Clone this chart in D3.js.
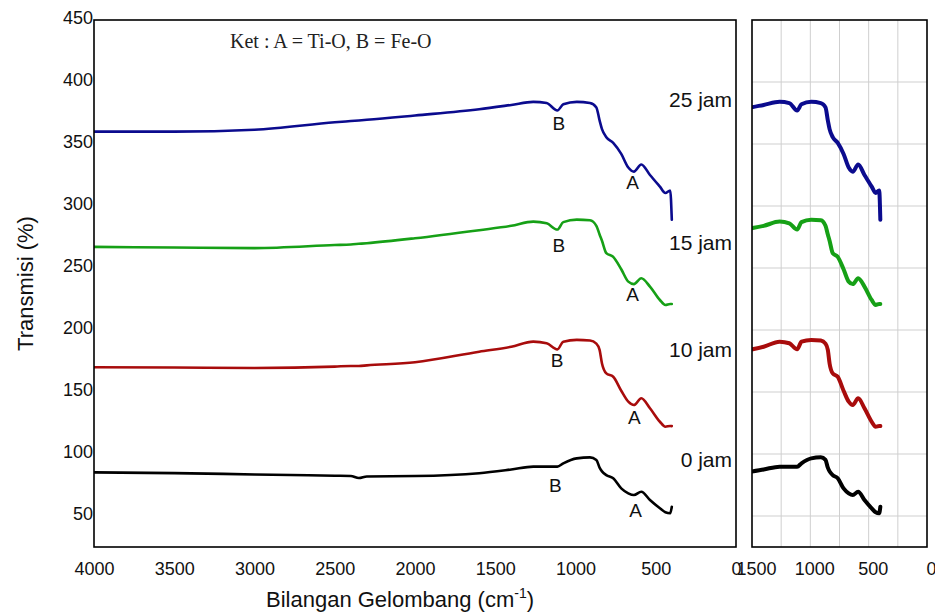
<!DOCTYPE html>
<html>
<head>
<meta charset="utf-8">
<script src="https://cdn.jsdelivr.net/npm/d3@7"></script>
<style>
  body { margin: 0; background: #fff; }
  svg { display: block; }
</style>
</head>
<body>
<script>
// wavenumber points (cm-1) shared by all spectra
var wn = [4000, 3500, 3000, 2500, 2400, 2350, 2300, 2000, 1600, 1400, 1263, 1180, 1113, 1076, 992, 910, 870, 850, 835, 808, 765, 715, 671, 636, 590, 536, 474, 440, 410, 400];

var jam0  = [85.2, 84.6, 83.5, 82.5, 82.3, 80.6, 81.9, 82.2, 84.5, 87.5, 89.8, 89.8, 89.8, 92.5, 96.5, 97.3, 95.2, 89, 86, 83, 80.4, 72.3, 68.3, 66.9, 69.6, 62.9, 56.2, 53, 52.2, 57.5];
var jam10 = [170, 169.8, 169.4, 170.5, 171, 171, 171.5, 174, 182.5, 186.5, 190.6, 189.3, 184.4, 190.6, 192, 191.5, 189, 184, 173, 165, 162.3, 151, 142.2, 139.5, 144.9, 136.9, 126, 122, 122.6, 122.5];
var jam15 = [267, 266.5, 266, 268.5, 269, 269.5, 270, 274, 280.5, 284, 287.4, 286, 281, 287, 289, 288.5, 284, 277, 272, 262, 259, 249, 239, 237, 241.7, 235, 224.2, 220.2, 221, 221];
var jam25 = [360, 360, 361.5, 367.5, 368.5, 369, 369.5, 373, 378, 381.5, 384, 383, 377, 382, 384, 383, 379.5, 369, 362, 355.5, 351, 342, 331, 327.7, 333.5, 325, 315.6, 310.5, 312.5, 289];

var seriesNames = ["0 jam", "10 jam", "15 jam", "25 jam"];
var seriesColors = ["#000000", "#a80c0c", "#16a016", "#0b0b8e"];
var seriesValues = [jam0, jam10, jam15, jam25];
// label anchors in data units (transmisi value where each name sits)
var seriesLabelAt = [89.5, 178, 264.5, 380];
// where the peak letters sit on each curve (wavenumber, value)
var peakA = [[626, 49.4], [634, 124.2], [645, 223.6], [645, 313.7]];
var peakB = [[1126, 69.6], [1115, 170.4], [1103, 263.1], [1103, 361.3]];

var yTicks = [50, 100, 150, 200, 250, 300, 350, 400, 450];
var xTicksMain = [4000, 3500, 3000, 2500, 2000, 1500, 1000, 500, 0];
var xTicksZoom = [1500, 1000, 500, 0];
var xGridZoom = [1250, 1000, 750, 500, 250];

var width = 935, height = 613;
var plotTop = 20, plotBottom = 547;
var mainL = 94, mainR = 736;
var zoomL = 752, zoomR = 927;
var fontSans = "Arial, 'Liberation Sans', sans-serif";

var svg = d3.select("body").append("svg")
  .attr("width", width)
  .attr("height", height)
  .style("font-family", fontSans);

var y = d3.scaleLinear().domain([25, 450]).range([plotBottom, plotTop]);
var xMain = d3.scaleLinear().domain([4000, 0]).range([mainL, mainR]);
var xZoom = d3.scaleLinear().domain([1500, 0]).range([zoomL, zoomR]);

var series = seriesNames.map(function(n, i) {
  return {
    name: n, color: seriesColors[i], labelAt: seriesLabelAt[i],
    pts: wn.map(function(w, j) { return [w, seriesValues[i][j]]; })
  };
});

// clip paths
var defs = svg.append("defs");
defs.append("clipPath").attr("id", "clipMain").append("rect")
  .attr("x", mainL).attr("y", plotTop).attr("width", mainR - mainL).attr("height", plotBottom - plotTop);
defs.append("clipPath").attr("id", "clipZoom").append("rect")
  .attr("x", zoomL).attr("y", plotTop).attr("width", zoomR - zoomL).attr("height", plotBottom - plotTop);

// ---- zoom panel grid
var gz = svg.append("g");
gz.selectAll(".vg").data(xGridZoom).enter().append("line")
  .attr("x1", function(d) { return xZoom(d); }).attr("x2", function(d) { return xZoom(d); })
  .attr("y1", plotTop).attr("y2", plotBottom)
  .attr("stroke", "#cfcfcf").attr("stroke-width", 1);
gz.selectAll(".hg").data(yTicks.filter(function(d) { return d < 450; })).enter().append("line")
  .attr("x1", zoomL).attr("x2", zoomR)
  .attr("y1", function(d) { return y(d); }).attr("y2", function(d) { return y(d); })
  .attr("stroke", "#cfcfcf").attr("stroke-width", 1);

// ---- lines
var lineMain = d3.line().x(function(d) { return xMain(d[0]); }).y(function(d) { return y(d[1]); })
  .curve(d3.curveMonotoneX);
var lineZoom = d3.line().x(function(d) { return xZoom(d[0]); }).y(function(d) { return y(d[1]); })
  .curve(d3.curveMonotoneX);

svg.append("g").attr("clip-path", "url(#clipMain)")
  .selectAll("path").data(series).enter().append("path")
  .attr("d", function(d) { return lineMain(d.pts); })
  .attr("fill", "none").attr("stroke", function(d) { return d.color; })
  .attr("stroke-width", 2.6).attr("stroke-linejoin", "round").attr("stroke-linecap", "round");

svg.append("g").attr("clip-path", "url(#clipZoom)")
  .selectAll("path").data(series).enter().append("path")
  .attr("d", function(d) { return lineZoom(d.pts); })
  .attr("fill", "none").attr("stroke", function(d) { return d.color; })
  .attr("stroke-width", 4).attr("stroke-linejoin", "round").attr("stroke-linecap", "round");

// ---- frames
[[mainL, mainR], [zoomL, zoomR]].forEach(function(p) {
  svg.append("rect").attr("x", p[0]).attr("y", plotTop)
    .attr("width", p[1] - p[0]).attr("height", plotBottom - plotTop)
    .attr("fill", "none").attr("stroke", "#000").attr("stroke-width", 1.6);
});

// ---- axes
var fmt = d3.format("d");
var yAxis = d3.axisLeft(y).tickValues(yTicks).tickFormat(fmt).tickSize(0).tickPadding(1);
var ga = svg.append("g").attr("transform", "translate(" + mainL + ",0)").call(yAxis);
ga.select(".domain").remove();
ga.selectAll("text").attr("dy", "0.22em").style("font-size", "18px").attr("fill", "#111").style("font-family", fontSans);

var xAxisMain = d3.axisBottom(xMain).tickValues(xTicksMain).tickFormat(fmt).tickSize(0).tickPadding(15);
var gx = svg.append("g").attr("transform", "translate(0," + plotBottom + ")").call(xAxisMain);
gx.select(".domain").remove();
gx.selectAll("text").style("font-size", "18px").attr("fill", "#111").style("font-family", fontSans);

var xAxisZoom = d3.axisBottom(xZoom).tickValues(xTicksZoom).tickFormat(fmt).tickSize(0).tickPadding(15);
var gx2 = svg.append("g").attr("transform", "translate(0," + plotBottom + ")").call(xAxisZoom);
gx2.select(".domain").remove();
gx2.selectAll("text").attr("dx", 4).style("font-size", "18px").attr("fill", "#111").style("font-family", fontSans);

// ---- titles
svg.append("text")
  .attr("transform", "translate(33," + ((plotTop + plotBottom) / 2) + ") rotate(-90)")
  .attr("text-anchor", "middle")
  .style("font-size", "22px").attr("fill", "#111")
  .text("Transmisi (%)");

var xt = svg.append("text")
  .attr("x", 400).attr("y", 607)
  .attr("text-anchor", "middle")
  .style("font-size", "22px").attr("fill", "#111");
xt.append("tspan").text("Bilangan Gelombang (cm");
xt.append("tspan").attr("dy", -9).style("font-size", "14px").text("-1");
xt.append("tspan").attr("dy", 9).text(")");

svg.append("text")
  .attr("x", 230).attr("y", 48)
  .style("font-family", "'Liberation Serif', 'Times New Roman', serif")
  .style("font-size", "20px").attr("fill", "#222")
  .text("Ket : A = Ti-O, B = Fe-O");

// ---- series labels and peak letters
svg.selectAll(".slab").data(series).enter().append("text")
  .attr("x", 732)
  .attr("y", function(d) { return y(d.labelAt); })
  .attr("text-anchor", "end")
  .style("font-size", "21px").attr("fill", "#111")
  .text(function(d) { return d.name; });

svg.selectAll(".pa").data(peakA).enter().append("text")
  .attr("x", function(d) { return xMain(d[0]); })
  .attr("y", function(d) { return y(d[1]); })
  .attr("text-anchor", "middle")
  .style("font-size", "19px").attr("fill", "#111")
  .text("A");

svg.selectAll(".pb").data(peakB).enter().append("text")
  .attr("x", function(d) { return xMain(d[0]); })
  .attr("y", function(d) { return y(d[1]); })
  .attr("text-anchor", "middle")
  .style("font-size", "19px").attr("fill", "#111")
  .text("B");
</script>
</body>
</html>
